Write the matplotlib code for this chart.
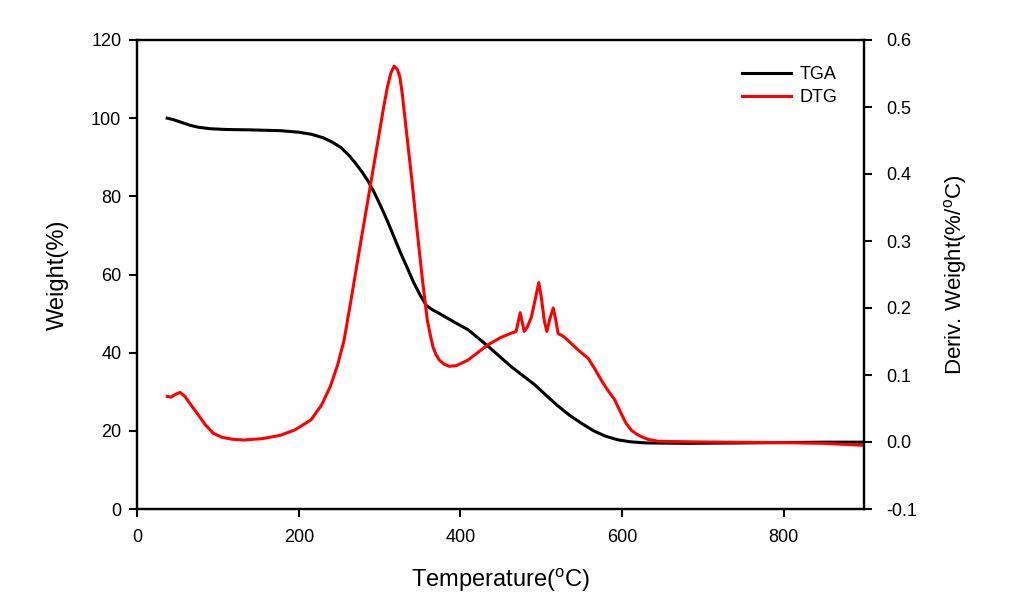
import matplotlib.pyplot as plt

plt.rcParams['font.family'] = ['Liberation Sans', 'DejaVu Sans']
plt.rcParams['mathtext.fontset'] = 'custom'
plt.rcParams['mathtext.rm'] = 'Liberation Sans'
plt.rcParams['mathtext.it'] = 'Liberation Sans'

# TGA curve (temperature in C, weight %)
tga_t = [37, 45, 55, 65, 75, 90, 110, 140, 177, 200, 215, 230, 242, 252, 262,
         270, 278, 286, 294, 302, 310, 318, 326, 334, 342, 350, 358, 366, 375,
         390, 410, 435, 463, 480, 492, 505, 520, 535, 550, 565, 580, 595, 610,
         630, 680, 750, 800, 850, 900]
tga_w = [100.0, 99.6, 98.9, 98.2, 97.7, 97.3, 97.1, 97.0, 96.8, 96.4, 95.9,
         95.0, 93.8, 92.5, 90.5, 88.5, 86.3, 83.8, 80.7, 77.2, 73.5, 69.5,
         65.5, 61.8, 58.0, 54.8, 52.0, 50.9, 49.9, 48.1, 45.8, 41.5, 36.4,
         33.7, 31.8, 29.3, 26.5, 24.0, 21.9, 20.0, 18.6, 17.7, 17.2, 16.9,
         16.8, 16.9, 17.0, 17.1, 17.1]

# DTG curve (temperature in C, %/C)
dtg_t = [37, 42, 47, 53, 59, 66, 74, 84, 94, 105, 118, 132, 155, 177, 195, 215,
         228, 239, 248, 256, 265, 275, 289, 298, 305, 310, 314, 318, 322, 325,
         328, 332, 340, 346, 353, 359, 363, 366, 370, 374, 380, 386, 395, 409,
         420, 434, 450, 462, 469, 474, 479, 483, 488, 493, 497, 500, 504, 507,
         511, 515, 518, 521, 527, 531, 546, 558, 566, 574, 582, 591, 598, 605,
         612, 618, 624, 632, 645, 700, 800, 850, 900]
dtg_d = [0.068, 0.067, 0.071, 0.074, 0.068, 0.056, 0.043, 0.026, 0.013, 0.007,
         0.004, 0.003, 0.005, 0.010, 0.018, 0.033, 0.055, 0.083, 0.115, 0.152,
         0.215, 0.287, 0.386, 0.45, 0.50, 0.532, 0.551, 0.561, 0.556, 0.545,
         0.52, 0.476, 0.39, 0.32, 0.242, 0.182, 0.158, 0.142, 0.130, 0.122,
         0.116, 0.113, 0.114, 0.122, 0.132, 0.145, 0.156, 0.162, 0.165, 0.193,
         0.165, 0.172, 0.187, 0.215, 0.238, 0.217, 0.180, 0.165, 0.185, 0.200,
         0.182, 0.162, 0.158, 0.154, 0.137, 0.125, 0.110, 0.093, 0.078, 0.063,
         0.045, 0.028, 0.017, 0.012, 0.008, 0.004, 0.001, 0.000, -0.001,
         -0.002, -0.005]

fig = plt.figure(figsize=(10.12, 6.10), dpi=100)
ax1 = fig.add_axes([137.3 / 1012, 101 / 610, 727 / 1012, 469 / 610])
ax2 = ax1.twinx()

l1, = ax1.plot(tga_t, tga_w, color='black', lw=2.2, label='TGA')
l2, = ax2.plot(dtg_t, dtg_d, color='#ff0000', lw=2.2, label='DTG')

ax1.set_xlim(0, 900)
ax1.set_ylim(0, 120)
ax2.set_ylim(-0.1, 0.6)
ax1.set_xticks([0, 200, 400, 600, 800])
ax1.set_yticks([0, 20, 40, 60, 80, 100, 120])
ax2.set_yticks([-0.1, 0.0, 0.1, 0.2, 0.3, 0.4, 0.5, 0.6])
ax2.set_yticklabels(['-0.1', '0.0', '0.1', '0.2', '0.3', '0.4', '0.5', '0.6'])

for ax in (ax1, ax2):
    ax.tick_params(direction='out', length=5.5, width=1.5, labelsize=13)
    for s in ax.spines.values():
        s.set_linewidth(1.6)
ax1.tick_params(axis='x', pad=9)
ax1.tick_params(axis='y', pad=6)
ax2.tick_params(axis='y', pad=10)

ax1.set_xlabel('Temperature($^{\\rm o}$C)', fontsize=17, labelpad=15)
ax1.set_ylabel('Weight(%)', fontsize=17, labelpad=16)
ax2.set_ylabel('Deriv. Weight(%/$^{\\rm o}$C)', fontsize=16, labelpad=18)

ax2.legend([l1, l2], ['TGA', 'DTG'], frameon=False, fontsize=13,
           loc='upper left', bbox_to_anchor=(742 / 1012, 1 - 66 / 610),
           bbox_transform=fig.transFigure, borderpad=0, borderaxespad=0,
           handlelength=2.7, handletextpad=0.5, labelspacing=0.34)

fig.savefig('out.png', dpi=100)
